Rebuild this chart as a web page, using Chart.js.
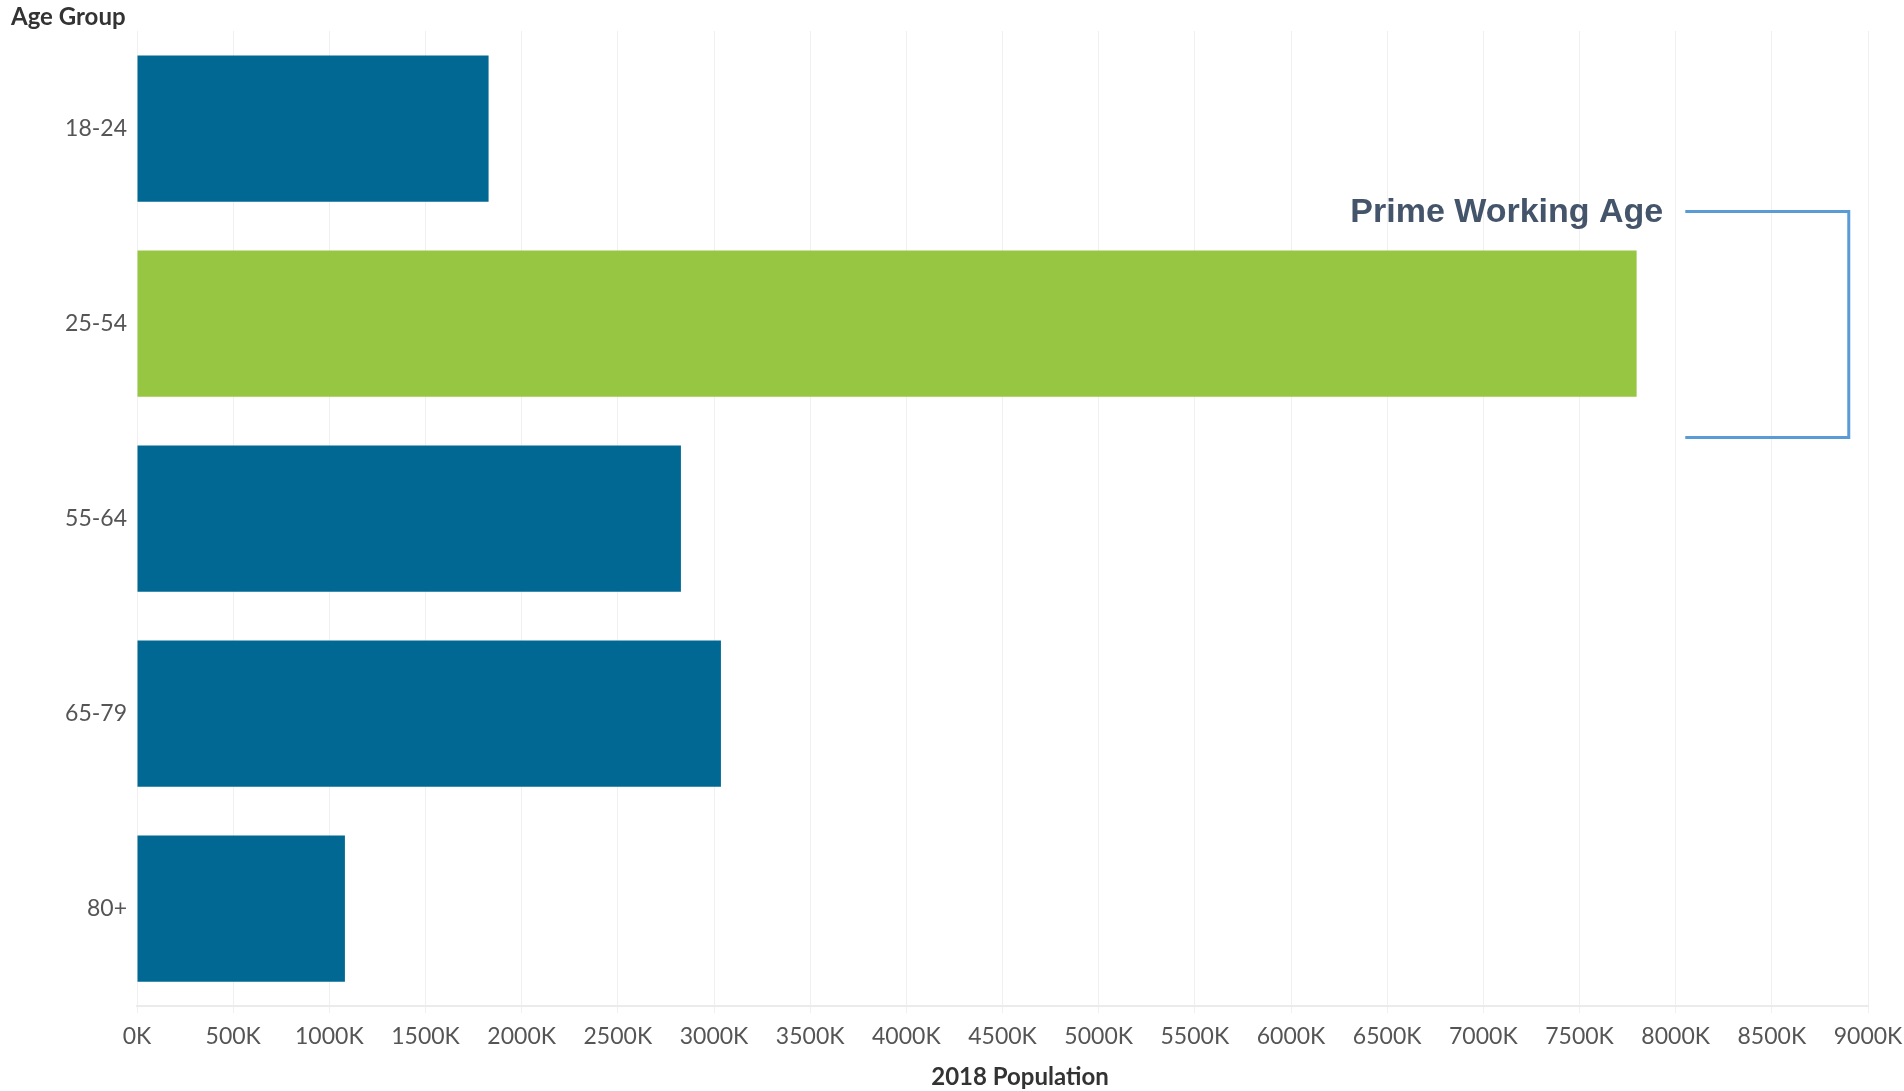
<!DOCTYPE html>
<html>
<head>
<meta charset="utf-8">
<script src="https://cdn.jsdelivr.net/npm/chart.js@4/dist/chart.umd.min.js"></script>
<style>
  html, body { margin: 0; padding: 0; background: #fff; }
  #wrap { width: 1904px; height: 1091px; position: relative; }
</style>
</head>
<body>
<div id="wrap"><canvas id="popChart" width="1904" height="1091"></canvas></div>
<script>
// chart data
const ageGroups = ['18-24', '25-54', '55-64', '65-79', '80+'];
const population2018 = [1828000, 7797000, 2828000, 3036000, 1081000];
const highlightGroup = '25-54';
const xTickStep = 500000;
const xMax = 9000000;

const BLUE = '#006892';
const GREEN = '#97c742';

// custom titles + "Prime Working Age" bracket
const extrasPlugin = {
  id: 'extras',
  afterDraw(chart) {
    const { ctx, scales: { x, y } } = chart;
    ctx.save();

    // "Age Group" header
    ctx.fillStyle = '#333333';
    ctx.font = 'bold 24px Lato';
    ctx.textAlign = 'left';
    ctx.textBaseline = 'middle';
    ctx.fillText('Age Group', 11, 17);

    // x axis title
    ctx.textAlign = 'center';
    ctx.fillText('2018 Population', 1020, 1077);

    // bracket around the highlighted group
    const idx = ageGroups.indexOf(highlightGroup);
    const cy = y.getPixelForValue(idx);
    const top = cy - 112;
    const bottom = cy + 114;
    const xl = x.getPixelForValue(8050000);
    const xr = x.getPixelForValue(8900000);
    ctx.strokeStyle = '#5b9bd5';
    ctx.lineWidth = 3;
    ctx.beginPath();
    ctx.moveTo(xl, top);
    ctx.lineTo(xr, top);
    ctx.lineTo(xr, bottom);
    ctx.lineTo(xl, bottom);
    ctx.stroke();

    ctx.fillStyle = '#44546a';
    ctx.font = 'bold 34px "Liberation Sans", Arial';
    ctx.textAlign = 'right';
    ctx.textBaseline = 'alphabetic';
    ctx.fillText('Prime Working Age', xl - 22, top + 10);

    ctx.restore();
  }
};

new Chart(document.getElementById('popChart'), {
  type: 'bar',
  data: {
    labels: ageGroups,
    datasets: [{
      label: '2018 Population',
      data: population2018,
      backgroundColor: ageGroups.map(g => g === highlightGroup ? GREEN : BLUE),
      borderWidth: 0,
      categoryPercentage: 1,
      barPercentage: 0.75
    }]
  },
  options: {
    indexAxis: 'y',
    responsive: false,
    animation: false,
    layout: { padding: { top: 31, right: 36, left: 0, bottom: 0 } },
    plugins: {
      legend: { display: false },
      tooltip: { enabled: false }
    },
    scales: {
      x: {
        min: 0,
        max: xMax,
        afterFit: s => {
          s.height = 85;
          s.paddingLeft = 0;
          s.paddingRight = 0;
        },
        grid: { color: '#f0f0f0', lineWidth: 1, drawTicks: true, tickLength: 7 },
        border: { color: '#ebebeb', width: 2 },
        ticks: {
          stepSize: xTickStep,
          color: '#555555',
          font: { family: 'Lato', size: 23 },
          padding: 10,
          maxRotation: 0,
          autoSkip: false,
          callback: v => (v / 1000) + 'K'
        }
      },
      y: {
        afterFit: s => { s.width = 137; },
        grid: { display: false, drawTicks: false },
        border: { display: false },
        ticks: {
          color: '#555555',
          font: { family: 'Lato', size: 23 },
          padding: 10
        }
      }
    }
  },
  plugins: [extrasPlugin]
});
</script>
</body>
</html>
